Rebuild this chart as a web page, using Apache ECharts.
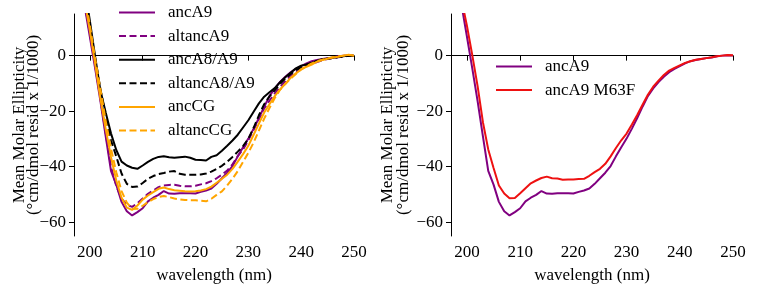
<!DOCTYPE html>
<html>
<head>
<meta charset="utf-8">
<script src="https://cdn.jsdelivr.net/npm/echarts@6/dist/echarts.min.js"></script>
<style>
  html, body { margin: 0; padding: 0; background: #fff; }
  #chart { width: 760px; height: 300px; }
</style>
</head>
<body>
<div id="chart"></div>
<script>
// wavelength (nm)
const wavelengths = [199, 200, 201, 202, 203, 204, 205, 206, 207, 208, 209, 210, 211, 212, 213, 214, 215, 216, 217, 218, 219, 220, 221, 222, 223, 224, 225, 226, 227, 228, 229, 230, 231, 232, 233, 234, 235, 236, 237, 238, 239, 240, 241, 242, 243, 244, 245, 246, 247, 248, 249, 250];

const ancA9 = [18, 6.8, -4.6, -16.4, -29.1, -41.5, -46.5, -52.7, -56.1, -57.6, -56.4, -55.0, -52.5, -51.2, -50.2, -48.8, -49.7, -49.8, -49.6, -49.6, -49.6, -49.7, -49.1, -48.6, -47.9, -46.2, -44.2, -42.2, -39.8, -36.3, -33.0, -29.9, -26.3, -22.5, -18.4, -14.6, -11.8, -9.5, -7.6, -6.0, -4.8, -3.8, -2.8, -2.0, -1.6, -1.2, -0.9, -0.7, -0.2, 0, 0.1, 0];
const altancA9 = [19, 8, -3.5, -15.5, -28, -40, -47, -51.5, -53.7, -54.5, -53.2, -51.5, -49.8, -48.6, -47.4, -46.8, -46.6, -46.5, -46.9, -47.1, -47.1, -46.9, -46.4, -46.0, -45.2, -44.2, -42.9, -41.4, -39.2, -36.2, -33.8, -30.5, -26.7, -22.9, -19.0, -16.2, -13.6, -11.3, -9.2, -7.2, -6.0, -4.8, -3.8, -3.0, -2.3, -1.7, -1.2, -0.9, -0.6, -0.4, 0, -0.2];
const ancA8A9 = [25, 12.6, -0.3, -12.5, -20.5, -28, -34, -38.2, -39.6, -40.4, -40.8, -39.6, -38.3, -37.2, -36.5, -36.3, -36.6, -36.8, -36.6, -36.4, -36.8, -37.5, -37.6, -37.8, -36.5, -35.9, -34.3, -32.5, -30.6, -28.5, -25.9, -23.3, -20.2, -17.2, -14.8, -13.2, -11.7, -9.6, -7.8, -6.2, -4.6, -3.6, -3.2, -2.6, -1.9, -1.3, -1.1, -0.8, -0.5, -0.2, 0, 0];
const altancA8A9 = [22, 11, -1, -12, -22, -30.5, -36.3, -42.5, -46.2, -47.3, -47.2, -45.9, -44.4, -43.4, -42.7, -42.3, -41.8, -41.6, -42.6, -42.9, -42.9, -42.9, -42.8, -42.5, -41.8, -40.8, -39.7, -38.2, -36.5, -34.6, -32.6, -30.0, -26, -21.5, -17.5, -14.7, -12.5, -10.2, -8.3, -6.6, -5.2, -4.2, -3.3, -2.6, -1.9, -1.4, -1.0, -0.8, -0.5, -0.3, 0, -0.1];
const ancCG = [20, 9, -3, -15.5, -26.5, -36.5, -45, -51.2, -54.8, -55.6, -54.0, -51.9, -50.4, -49.2, -48.0, -47.5, -48.1, -48.5, -48.7, -48.9, -49.0, -48.9, -48.6, -48.1, -47.2, -45.8, -44.4, -42.9, -40.8, -38.2, -35.5, -32.5, -28.5, -24.5, -20.5, -17.5, -14.6, -12.2, -10.2, -8.0, -6.4, -5.0, -4.0, -3.2, -2.2, -1.6, -1.1, -0.7, -0.4, 0, 0.3, 0];
const altancCG = [22, 11, -1, -12, -23.5, -33.5, -42, -48.8, -53.0, -55.3, -55.2, -54.1, -52.8, -51.7, -50.9, -50.6, -51.0, -51.5, -51.8, -52.0, -52.1, -52.1, -52.3, -52.5, -51.6, -50.2, -48.9, -46.8, -44.4, -41.6, -38.3, -35.0, -31.3, -27.0, -22.7, -18.9, -15.3, -12.3, -10.2, -8.3, -6.6, -4.9, -3.8, -2.8, -2.0, -1.5, -1.0, -0.6, -0.3, 0, 0.2, 0];
const ancA9M63F = [20, 10.7, 0.2, -11, -24, -33.8, -40.5, -46.8, -49.7, -51.4, -51.3, -49.6, -47.8, -46.0, -45.0, -44.1, -43.6, -44.2, -44.3, -44.7, -44.6, -44.6, -44.5, -44.4, -43.3, -42.0, -40.8, -39.0, -36.3, -33.3, -30.5, -28.1, -24.8, -21.4, -17.7, -14.1, -11.2, -9.0, -7.0, -5.4, -4.4, -3.5, -2.6, -2.0, -1.5, -1.2, -0.9, -0.6, -0.2, 0, 0.2, 0.1];

const xTicks = [200, 210, 220, 230, 240, 250];
const yTicks = [-60, -40, -20, 0];

const FONT = "Liberation Serif";
const PURPLE = "#800080";
const ORANGE = "#FFA500";
const BLACK = "#000000";
const RED = "#EE1111";
const DASH = [7, 3.5];

const pairs = (vals) => wavelengths.map((w, i) => [w, vals[i]]);
const minus = (v) => String(v).replace("-", "\u2212");

const makeX = (gridIndex) => ({
  type: "value",
  gridIndex,
  min: 197,
  max: 250,
  name: "wavelength (nm)",
  nameLocation: "middle",
  nameGap: 31,
  nameTextStyle: { fontFamily: FONT, fontSize: 17, color: "#000" },
  axisLine: { lineStyle: { color: "#000", width: 1 } },
  axisTick: { show: true, length: 5, customValues: xTicks, lineStyle: { color: "#000" } },
  axisLabel: { customValues: xTicks, margin: 8, fontFamily: FONT, fontSize: 17, color: "#000" },
  splitLine: { show: false },
});

const makeY = (gridIndex, gap, lh) => ({
  type: "value",
  gridIndex,
  min: -65,
  max: 15,
  name: "Mean Molar Ellipticity\n(°cm/dmol resid x 1/1000)",
  nameLocation: "middle",
  nameGap: gap,
  nameMoveOverlap: false,
  nameTextStyle: { fontFamily: FONT, fontSize: 17, lineHeight: lh, color: "#000" },
  axisLine: { show: true, lineStyle: { color: "#000", width: 1 } },
  axisTick: { show: true, length: 5, customValues: yTicks, lineStyle: { color: "#000" } },
  axisLabel: { customValues: yTicks, margin: 8, fontFamily: FONT, fontSize: 17, color: "#000", formatter: minus },
  splitLine: { show: false },
});

const line = (name, vals, color, dashed, idx) => ({
  name,
  type: "line",
  xAxisIndex: idx,
  yAxisIndex: idx,
  data: pairs(vals),
  symbol: "none",
  clip: true,
  lineStyle: { color, width: 2, type: dashed ? DASH : "solid" },
  itemStyle: { color },
});

const legendBase = {
  orient: "vertical",
  padding: 0,
  itemWidth: 36,
  itemHeight: 14,
  itemGap: 6.6,
  itemStyle: { opacity: 0 },
  textStyle: { fontFamily: FONT, fontSize: 17, lineHeight: 16, color: "#000", padding: [0, 0, 0, 8] },
};

const chart = echarts.init(document.getElementById("chart"), null, { renderer: "canvas" });
chart.setOption({
  animation: false,
  backgroundColor: "#fff",
  grid: [
    { left: 74, top: 14, width: 280, height: 222 },
    { left: 451, top: 14, width: 282, height: 222 },
  ],
  xAxis: [makeX(0), makeX(1)],
  yAxis: [makeY(0, 33, 14), makeY(1, 39, 16)],
  legend: [
    { ...legendBase, left: 118, top: 4, data: ["ancA9", "altancA9", "ancA8/A9", "altancA8/A9", "ancCG", "altancCG"] },
    { ...legendBase, left: 495, top: 58, data: ["ancA9 ", "ancA9 M63F"] },
  ],
  series: [
    line("ancA9", ancA9, PURPLE, false, 0),
    line("altancA9", altancA9, PURPLE, true, 0),
    line("ancA8/A9", ancA8A9, BLACK, false, 0),
    line("altancA8/A9", altancA8A9, BLACK, true, 0),
    line("ancCG", ancCG, ORANGE, false, 0),
    line("altancCG", altancCG, ORANGE, true, 0),
    line("ancA9 ", ancA9, PURPLE, false, 1),
    line("ancA9 M63F", ancA9M63F, RED, false, 1),
  ],
});
</script>
</body>
</html>
